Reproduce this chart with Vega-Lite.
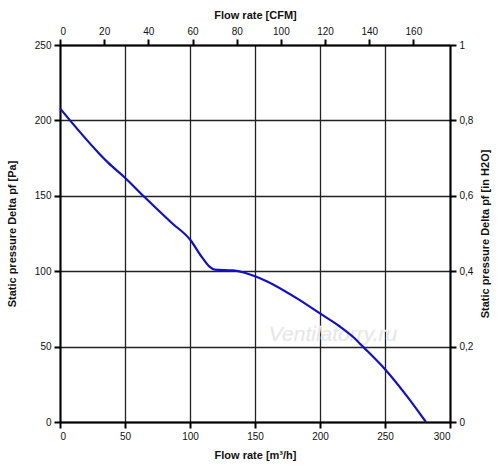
{
  "$schema": "https://vega.github.io/schema/vega-lite/v6.json",
  "description": "Fan curve: static pressure vs flow rate, with CFM and in H2O secondary axes.",
  "autosize": "none",
  "width": 390,
  "height": 377,
  "padding": {"left": 60, "top": 45, "right": 50, "bottom": 51},
  "background": "white",
  "config": {
    "view": {"stroke": null},
    "axis": {
      "labelFont": "Liberation Sans",
      "labelFontSize": 10,
      "labelColor": "#111",
      "titleFont": "Liberation Sans",
      "titleFontSize": 11,
      "titleFontWeight": "bold",
      "titleColor": "#111",
      "domainColor": "#000",
      "domainWidth": 2,
      "tickColor": "#000",
      "tickWidth": 2,
      "tickSize": 6,
      "labelPadding": 3,
      "gridColor": "#222",
      "gridWidth": 1.3,
      "gridOpacity": 1
    }
  },
  "datasets": {
    "curve": [
      {"flow": 0, "pa": 208},
      {"flow": 7.7, "pa": 200},
      {"flow": 29.5, "pa": 178.6},
      {"flow": 37, "pa": 172},
      {"flow": 50, "pa": 162},
      {"flow": 64, "pa": 150},
      {"flow": 86, "pa": 132},
      {"flow": 100, "pa": 121},
      {"flow": 109, "pa": 109.5},
      {"flow": 115, "pa": 103},
      {"flow": 119, "pa": 101},
      {"flow": 133, "pa": 100.5},
      {"flow": 142, "pa": 99},
      {"flow": 150, "pa": 96.7},
      {"flow": 159, "pa": 93.4},
      {"flow": 185, "pa": 80.5},
      {"flow": 200, "pa": 72},
      {"flow": 215, "pa": 63.5},
      {"flow": 226, "pa": 56},
      {"flow": 233, "pa": 50},
      {"flow": 250, "pa": 35},
      {"flow": 267, "pa": 17},
      {"flow": 281.5, "pa": 0}
    ],
    "secondary": [
      {"cfm": 0, "inh2o": 0},
      {"cfm": 176.57, "inh2o": 1}
    ],
    "mark": [
      {"flow": 210, "pa": 58, "label": "Ventilatorry.ru"}
    ]
  },
  "layer": [
    {
      "data": {"name": "mark"},
      "mark": {
        "type": "text",
        "font": "Liberation Sans",
        "fontSize": 21,
        "fontStyle": "italic",
        "color": "#e2e2e2",
        "stroke": "#f2f2f2",
        "strokeWidth": 0.5
      },
      "encoding": {
        "x": {"field": "flow", "type": "quantitative", "scale": {"domain": [0, 300]}, "axis": null},
        "y": {"field": "pa", "type": "quantitative", "scale": {"domain": [0, 250]}, "axis": null},
        "text": {"field": "label"}
      }
    },
    {
      "data": {"name": "curve"},
      "mark": {"type": "line", "color": "#1010cc", "strokeWidth": 2.2, "interpolate": "monotone"},
      "encoding": {
        "x": {
          "field": "flow",
          "type": "quantitative",
          "scale": {"domain": [0, 300], "nice": false},
          "axis": {
            "orient": "bottom",
            "title": "Flow rate [m³/h]",
            "values": [0, 50, 100, 150, 200, 250, 300],
            "grid": true,
            "titlePadding": 8
          }
        },
        "y": {
          "field": "pa",
          "type": "quantitative",
          "scale": {"domain": [0, 250], "nice": false},
          "axis": {
            "orient": "left",
            "title": "Static pressure Delta pf [Pa]",
            "values": [0, 50, 100, 150, 200, 250],
            "grid": true,
            "titleX": -43
          }
        }
      }
    },
    {
      "data": {"name": "secondary"},
      "mark": {"type": "point", "opacity": 0},
      "encoding": {
        "x": {
          "field": "cfm",
          "type": "quantitative",
          "scale": {"domain": [0, 176.57], "nice": false},
          "axis": {
            "orient": "top",
            "title": "Flow rate [CFM]",
            "values": [0, 20, 40, 60, 80, 100, 120, 140, 160],
            "grid": false,
            "titlePadding": 6
          }
        },
        "y": {
          "field": "inh2o",
          "type": "quantitative",
          "scale": {"domain": [0, 1], "nice": false},
          "axis": {
            "orient": "right",
            "title": "Static pressure Delta pf [in H2O]",
            "values": [0, 0.2, 0.4, 0.6, 0.8, 1],
            "labelExpr": "replace(format(datum.value, '.1~f'), '.', ',')",
            "grid": false,
            "titleAngle": -90,
            "titleX": 40
          }
        }
      }
    }
  ],
  "resolve": {"scale": {"x": "independent", "y": "independent"}}
}
